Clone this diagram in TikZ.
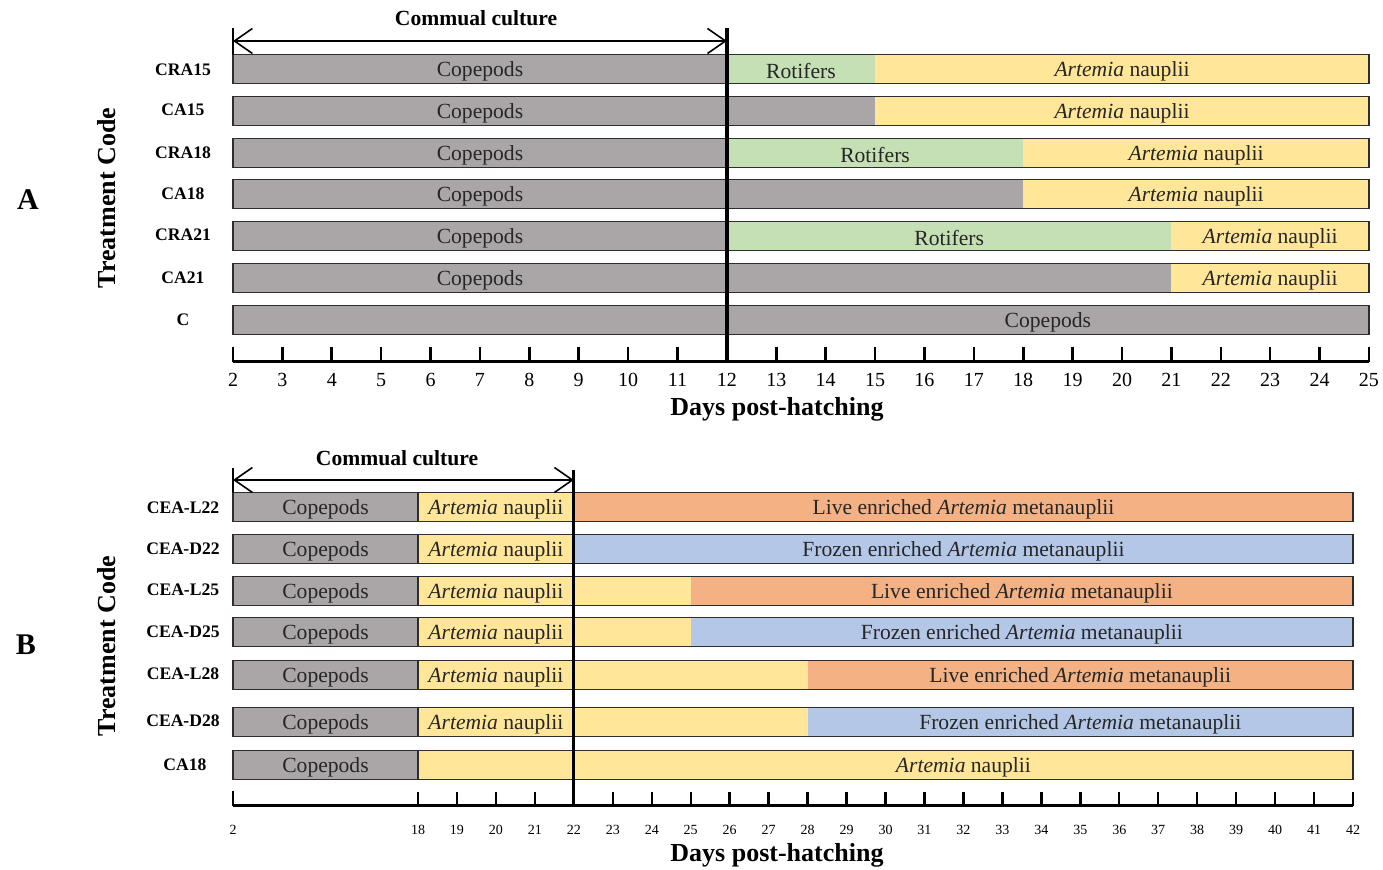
\documentclass[tikz,border=0pt]{standalone}
\usepackage{fontspec}
\setmainfont{Liberation Serif}
\usetikzlibrary{arrows.meta}

\definecolor{copegray}{RGB}{170,166,167}
\definecolor{rotgreen}{RGB}{197,224,180}
\definecolor{artyellow}{RGB}{255,230,153}
\definecolor{liveorange}{RGB}{244,177,131}
\definecolor{frozenblue}{RGB}{180,199,231}
\definecolor{edgegray}{RGB}{45,45,45}

% day -> pixel position on the two time axes
\newcommand{\dayA}[1]{(233+(#1-2)*49.39)}
\newcommand{\dayB}[1]{(418+(#1-18)*38.96)}
% one coloured stretch of a feeding bar: from, to, row, colour, name, text
\newcommand{\feedseg}[6]{%
  \fill[#4] ({#1},{#3-14.5}) rectangle ({#2},{#3+14.5});
  \node[bartext] (#5) at ({((#1)+(#2))/2},#3) {#6};}
% frame round a whole bar
\newcommand{\feedbox}[3]{%
  \draw[barline] ({#1},{#3-14.5}) rectangle ({#2},{#3+14.5});}

\begin{document}
\begin{tikzpicture}[x=0.5pt,y=-0.5pt]
    \tikzstyle{bartext}=[inner sep=0pt,yshift=-1.2pt,text=black!85,font=\fontsize{10.8}{12}\selectfont]
    \tikzstyle{rowlabel}=[inner sep=0pt,font=\bfseries\fontsize{8.8}{10}\selectfont]
    \tikzstyle{barline}=[draw=edgegray,line width=0.95pt]
    \tikzstyle{axisline}=[line width=1.5pt]
    \tikzstyle{ccarrow}=[line width=0.8pt,{Straight Barb[length=9pt,width=12.5pt]}-{Straight Barb[length=9pt,width=12.5pt]}]
    \tikzstyle{axistitle}=[font=\bfseries\fontsize{13}{15}\selectfont]
    \tikzstyle{paneltag}=[font=\bfseries\fontsize{15}{17}\selectfont]
    \useasboundingbox (0,0) rectangle (1383,870);

    % ---------------- panel A ----------------
    \node[paneltag] (tagA) at (28,200) {A};
    \node[axistitle,rotate=90] (codeA) at (107,198) {Treatment Code};

    \node[rowlabel] (CRA15) at (183,70) {CRA15};
    \feedseg{\dayA{2}}{\dayA{12}}{69}{copegray}{cra15c}{Copepods}
    \feedseg{\dayA{12}}{\dayA{15}}{69}{rotgreen}{cra15r}{Rotifers}
    \feedseg{\dayA{15}}{\dayA{25}}{69}{artyellow}{cra15a}{\textit{Artemia} nauplii}
    \feedbox{\dayA{2}}{\dayA{25}}{69}

    \node[rowlabel] (CA15) at (183,110) {CA15};
    \feedseg{\dayA{2}}{\dayA{12}}{111}{copegray}{ca15c}{Copepods}
    \feedseg{\dayA{12}}{\dayA{15}}{111}{copegray}{ca15g}{}
    \feedseg{\dayA{15}}{\dayA{25}}{111}{artyellow}{ca15a}{\textit{Artemia} nauplii}
    \feedbox{\dayA{2}}{\dayA{25}}{111}

    \node[rowlabel] (CRA18) at (183,153) {CRA18};
    \feedseg{\dayA{2}}{\dayA{12}}{153}{copegray}{cra18c}{Copepods}
    \feedseg{\dayA{12}}{\dayA{18}}{153}{rotgreen}{cra18r}{Rotifers}
    \feedseg{\dayA{18}}{\dayA{25}}{153}{artyellow}{cra18a}{\textit{Artemia} nauplii}
    \feedbox{\dayA{2}}{\dayA{25}}{153}

    \node[rowlabel] (CA18) at (183,194) {CA18};
    \feedseg{\dayA{2}}{\dayA{12}}{194}{copegray}{ca18c}{Copepods}
    \feedseg{\dayA{12}}{\dayA{18}}{194}{copegray}{ca18g}{}
    \feedseg{\dayA{18}}{\dayA{25}}{194}{artyellow}{ca18a}{\textit{Artemia} nauplii}
    \feedbox{\dayA{2}}{\dayA{25}}{194}

    \node[rowlabel] (CRA21) at (183,235) {CRA21};
    \feedseg{\dayA{2}}{\dayA{12}}{236}{copegray}{cra21c}{Copepods}
    \feedseg{\dayA{12}}{\dayA{21}}{236}{rotgreen}{cra21r}{Rotifers}
    \feedseg{\dayA{21}}{\dayA{25}}{236}{artyellow}{cra21a}{\textit{Artemia} nauplii}
    \feedbox{\dayA{2}}{\dayA{25}}{236}

    \node[rowlabel] (CA21) at (183,278) {CA21};
    \feedseg{\dayA{2}}{\dayA{12}}{278}{copegray}{ca21c}{Copepods}
    \feedseg{\dayA{12}}{\dayA{21}}{278}{copegray}{ca21g}{}
    \feedseg{\dayA{21}}{\dayA{25}}{278}{artyellow}{ca21a}{\textit{Artemia} nauplii}
    \feedbox{\dayA{2}}{\dayA{25}}{278}

    \node[rowlabel] (C) at (183,320) {C};
    \feedseg{\dayA{2}}{\dayA{12}}{320}{copegray}{cg}{}
    \feedseg{\dayA{12}}{\dayA{25}}{320}{copegray}{cc}{Copepods}
    \feedbox{\dayA{2}}{\dayA{25}}{320}

    % time axis
    \draw[axisline] ({\dayA{2}},362) -- ({\dayA{25}},362);
    \foreach \d in {2,...,25}{
      \draw[line width=1.3pt] ({\dayA{\d}},347) -- ({\dayA{\d}},362);
      \node[font=\fontsize{10}{12}\selectfont] (tA\d) at ({\dayA{\d}},380) {\d};
    }
    \node[axistitle] (daysA) at (777,409) {Days post-hatching};

    % communal culture span
    \coordinate (ccAl) at ({\dayA{2}},41);
    \coordinate (ccAr) at ({\dayA{12}},41);
    \draw[line width=1.1pt] ({\dayA{2}},28) -- ({\dayA{2}},55);
    \draw[line width=1.6pt] ({\dayA{12}},28) -- ({\dayA{12}},362);
    \draw[ccarrow] (ccAl) -- (ccAr);
    \node[font=\bfseries\fontsize{10.8}{12}\selectfont] (ccA) at (476,18) {Commual culture};

    % ---------------- panel B ----------------
    \node[paneltag] (tagB) at (26,645) {B};
    \node[axistitle,rotate=90] (codeB) at (107,646) {Treatment Code};

    \node[rowlabel] (CEAL22) at (183,508) {CEA-L22};
    \feedseg{233}{\dayB{18}}{507}{copegray}{l22c}{Copepods}
    \feedseg{\dayB{18}}{\dayB{22}}{507}{artyellow}{l22a}{\textit{Artemia} nauplii}
    \feedseg{\dayB{22}}{\dayB{42}}{507}{liveorange}{l22m}{Live enriched \textit{Artemia} metanauplii}
    \feedbox{233}{\dayB{42}}{507}

    \node[rowlabel] (CEAD22) at (183,549) {CEA-D22};
    \feedseg{233}{\dayB{18}}{549}{copegray}{d22c}{Copepods}
    \feedseg{\dayB{18}}{\dayB{22}}{549}{artyellow}{d22a}{\textit{Artemia} nauplii}
    \feedseg{\dayB{22}}{\dayB{42}}{549}{frozenblue}{d22m}{Frozen enriched \textit{Artemia} metanauplii}
    \feedbox{233}{\dayB{42}}{549}

    \node[rowlabel] (CEAL25) at (183,590) {CEA-L25};
    \feedseg{233}{\dayB{18}}{591}{copegray}{l25c}{Copepods}
    \feedseg{\dayB{18}}{\dayB{22}}{591}{artyellow}{l25a}{\textit{Artemia} nauplii}
    \feedseg{\dayB{22}}{\dayB{25}}{591}{artyellow}{l25y}{}
    \feedseg{\dayB{25}}{\dayB{42}}{591}{liveorange}{l25m}{Live enriched \textit{Artemia} metanauplii}
    \feedbox{233}{\dayB{42}}{591}

    \node[rowlabel] (CEAD25) at (183,632) {CEA-D25};
    \feedseg{233}{\dayB{18}}{632}{copegray}{d25c}{Copepods}
    \feedseg{\dayB{18}}{\dayB{22}}{632}{artyellow}{d25a}{\textit{Artemia} nauplii}
    \feedseg{\dayB{22}}{\dayB{25}}{632}{artyellow}{d25y}{}
    \feedseg{\dayB{25}}{\dayB{42}}{632}{frozenblue}{d25m}{Frozen enriched \textit{Artemia} metanauplii}
    \feedbox{233}{\dayB{42}}{632}

    \node[rowlabel] (CEAL28) at (183,674) {CEA-L28};
    \feedseg{233}{\dayB{18}}{675}{copegray}{l28c}{Copepods}
    \feedseg{\dayB{18}}{\dayB{22}}{675}{artyellow}{l28a}{\textit{Artemia} nauplii}
    \feedseg{\dayB{22}}{\dayB{28}}{675}{artyellow}{l28y}{}
    \feedseg{\dayB{28}}{\dayB{42}}{675}{liveorange}{l28m}{Live enriched \textit{Artemia} metanauplii}
    \feedbox{233}{\dayB{42}}{675}

    \node[rowlabel] (CEAD28) at (183,721) {CEA-D28};
    \feedseg{233}{\dayB{18}}{722}{copegray}{d28c}{Copepods}
    \feedseg{\dayB{18}}{\dayB{22}}{722}{artyellow}{d28a}{\textit{Artemia} nauplii}
    \feedseg{\dayB{22}}{\dayB{28}}{722}{artyellow}{d28y}{}
    \feedseg{\dayB{28}}{\dayB{42}}{722}{frozenblue}{d28m}{Frozen enriched \textit{Artemia} metanauplii}
    \feedbox{233}{\dayB{42}}{722}

    \node[rowlabel] (CAB18) at (185,765) {CA18};
    \feedseg{233}{\dayB{18}}{765}{copegray}{cb18c}{Copepods}
    \feedseg{\dayB{18}}{\dayB{22}}{765}{artyellow}{cb18y}{}
    \feedseg{\dayB{22}}{\dayB{42}}{765}{artyellow}{cb18a}{\textit{Artemia} nauplii}
    \feedbox{233}{\dayB{42}}{765}

    % copepod / nauplii border at day 18
    \foreach \r in {507,549,591,632,675,722,765}
      \draw[barline] ({\dayB{18}},{\r-14.5}) -- ({\dayB{18}},{\r+14.5});

    % time axis
    \draw[axisline] (233,806) -- ({\dayB{42}},806);
    \draw[line width=1.3pt] (233,791) -- (233,806);
    \node[font=\fontsize{7}{8}\selectfont] (tB2) at (233,830) {2};
    \foreach \d in {18,...,42}{
      \draw[line width=1.2pt] ({\dayB{\d}},792) -- ({\dayB{\d}},806);
      \node[font=\fontsize{7}{8}\selectfont] (tB\d) at ({\dayB{\d}},830) {\d};
    }
    \node[axistitle] (daysB) at (777,855) {Days post-hatching};

    % communal culture span
    \coordinate (ccBl) at (233,480);
    \coordinate (ccBr) at ({\dayB{22}},480);
    \draw[line width=1.1pt] (233,468) -- (233,493);
    \draw[line width=1.6pt] ({\dayB{22}},470) -- ({\dayB{22}},806);
    \draw[ccarrow] (ccBl) -- (ccBr);
    \node[font=\bfseries\fontsize{10.8}{12}\selectfont] (ccB) at (397,458) {Commual culture};
\end{tikzpicture}
\end{document}
